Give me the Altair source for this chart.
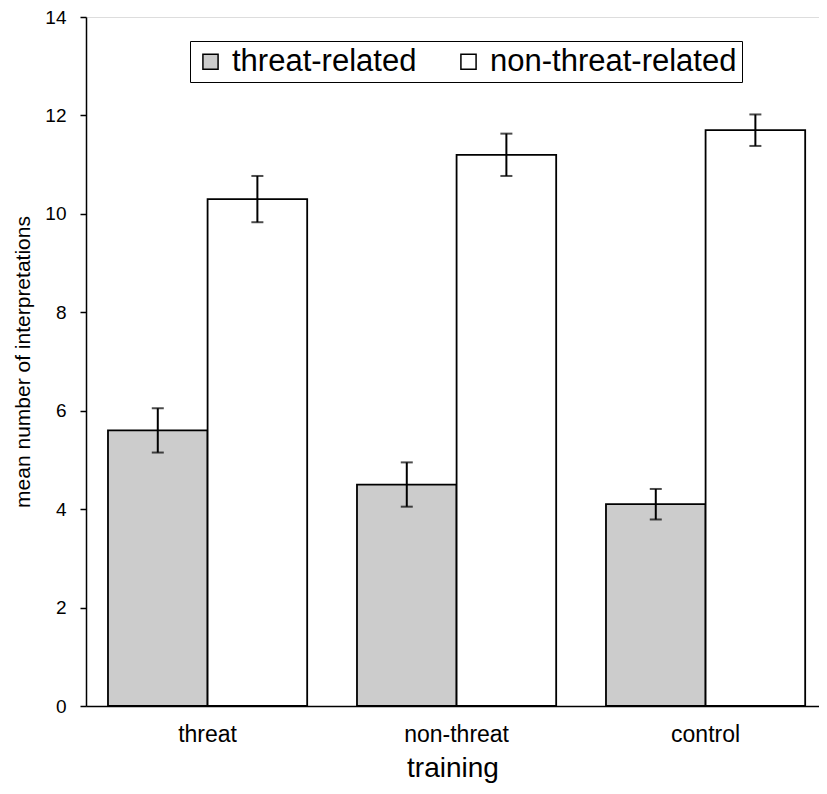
import altair as alt
import pandas as pd

categories = ["threat", "non-threat", "control"]
series = ["threat-related", "non-threat-related"]
threat_related = [5.6, 4.5, 4.1]
threat_related_err = [0.45, 0.45, 0.31]
non_threat_related = [10.3, 11.2, 11.7]
non_threat_related_err = [0.47, 0.43, 0.32]
y_ticks = [0, 2, 4, 6, 8, 10, 12, 14]

rows = []
for i, c in enumerate(categories):
    for s, vals, errs in [(series[0], threat_related, threat_related_err),
                          (series[1], non_threat_related, non_threat_related_err)]:
        rows.append({"training": c, "type": s, "value": vals[i],
                     "lo": vals[i] - errs[i], "hi": vals[i] + errs[i]})
df = pd.DataFrame(rows)

FONT = "Liberation Sans, Arial, Helvetica, sans-serif"

x_enc = alt.X("training:N", sort=categories,
              scale=alt.Scale(paddingInner=0.2, paddingOuter=0.0719, align=0.614),
              axis=alt.Axis(title="training", labelAngle=0, ticks=False,
                            labelFontSize=23, titleFontSize=28, labelPadding=17,
                            titlePadding=8, titleFontWeight="normal",
                            domainColor="black", domainWidth=1.5,
                            labelColor="black", titleColor="black"))
xoff = alt.XOffset("type:N", sort=series, scale=alt.Scale(paddingInner=0, paddingOuter=0))
y_scale = alt.Scale(domain=[0, 14], nice=False)

bars = alt.Chart(df).mark_bar(stroke="black", strokeWidth=1.8).encode(
    x=x_enc,
    xOffset=xoff,
    y=alt.Y("value:Q", scale=y_scale,
            axis=alt.Axis(title="mean number of interpretations", values=y_ticks,
                          grid=False, tickSize=6, tickColor="black", tickWidth=1.5,
                          labelFontSize=19, labelPadding=14, titleFontSize=21,
                          titleFontWeight="normal", titlePadding=11,
                          domainColor="black", domainWidth=1.5,
                          labelColor="black", titleColor="black")),
    fill=alt.Fill("type:N", sort=series,
                  scale=alt.Scale(domain=series, range=["#cccccc", "#ffffff"]),
                  legend=alt.Legend(title=None, orient="none", direction="horizontal",
                                    legendX=104, legendY=24, strokeColor="black",
                                    padding=5, symbolType="square", symbolSize=230,
                                    symbolStrokeColor="black", symbolStrokeWidth=1.5,
                                    labelFontSize=31, labelOffset=6, columnPadding=36,
                                    labelColor="black", labelLimit=450)),
)

rules = alt.Chart(df).mark_rule(color="black", strokeWidth=2).encode(
    x=alt.X("training:N", sort=categories),
    xOffset=alt.XOffset("type:N", sort=series),
    y=alt.Y("lo:Q", scale=y_scale),
    y2="hi:Q",
)
caps_lo = alt.Chart(df).mark_tick(color="black", thickness=2, size=12).encode(
    x=alt.X("training:N", sort=categories),
    xOffset=alt.XOffset("type:N", sort=series),
    y=alt.Y("lo:Q", scale=y_scale),
)
caps_hi = alt.Chart(df).mark_tick(color="black", thickness=2, size=12).encode(
    x=alt.X("training:N", sort=categories),
    xOffset=alt.XOffset("type:N", sort=series),
    y=alt.Y("hi:Q", scale=y_scale),
)

chart = alt.layer(bars, rules, caps_lo, caps_hi).properties(
    width=733, height=689,
    autosize=alt.AutoSizeParams(type="none"),
    padding={"left": 78, "top": 9, "right": 0, "bottom": 85},
).configure_view(strokeWidth=0).configure(font=FONT)

chart.save("out.html", embed_options={"renderer": "svg", "actions": False})
